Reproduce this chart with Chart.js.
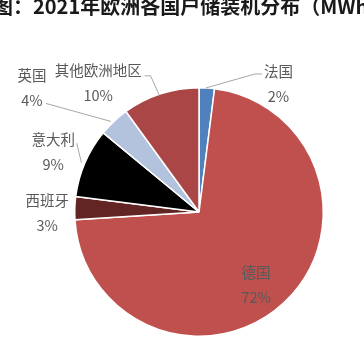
<!DOCTYPE html>
<html><head><meta charset="utf-8">
<script src="https://cdn.jsdelivr.net/npm/chart.js@4/dist/chart.umd.min.js"></script>
<style>
html,body{margin:0;padding:0;background:#fff;overflow:hidden;}
#wrap{position:relative;width:364px;height:343px;overflow:hidden;}
#title{position:absolute;left:-7px;top:-4px;white-space:nowrap;font:bold 20px "Noto Sans CJK SC",sans-serif;line-height:20px;color:#1a1a1a;}
canvas{position:absolute;left:0;top:0;}
</style></head>
<body>
<div id="wrap">
<canvas id="c" width="364" height="343"></canvas>
<div id="title">图：2021年欧洲各国户储装机分布（MWh）</div>
</div>
<script>
const categories = ["法国","德国","西班牙","意大利","英国","其他欧洲地区"];
const shares = [2,72,3,9,4,10];
const pctLabels = ["2%","72%","3%","9%","4%","10%"];

const colors = ["#4F81BD","#C0504D","#632523","#000000","#B3C2DD","#AB4646"];
// label name-centre offsets from the slice's outer-edge midpoint
const labelOffsets = [[71.7,-17],[-28,-30],[-27.6,-8],[-31.8,-23.4],[-82,-46.4],[-62.4,-23]];
// leader line points as offsets from the outer-edge midpoint
const leaders = [
  [[55,-14],[48,-14],[-1,0]],
  null,
  null,
  [[-8.3,-19.4],[-3.5,0]],
  [[-68,-18],[-3,0]],
  [[-16,-18],[-10,-18],[-1.5,1]]
];

const labelPlugin = {
  id:'pieLabels',
  afterDraw(chart){
    const ctx = chart.ctx;
    const meta = chart.getDatasetMeta(0);
    meta.data.forEach((arc,i)=>{
      const p = arc.getProps(['x','y','startAngle','endAngle','outerRadius'],true);
      const mid = (p.startAngle+p.endAngle)/2;
      const ax = p.x + Math.cos(mid)*p.outerRadius;
      const ay = p.y + Math.sin(mid)*p.outerRadius;
      if (leaders[i]) {
        ctx.save();
        ctx.strokeStyle = '#A6A6A6';
        ctx.lineWidth = 1;
        ctx.beginPath();
        leaders[i].forEach((o,k)=>{ const X=ax+o[0], Y=ay+o[1]; if(k===0) ctx.moveTo(X,Y); else ctx.lineTo(X,Y); });
        ctx.stroke();
        ctx.restore();
      }
      const lx = ax + labelOffsets[i][0];
      const ly = ay + labelOffsets[i][1];
      ctx.save();
      ctx.fillStyle = '#595959';
      ctx.font = '14.5px "Noto Sans CJK SC", sans-serif';
      ctx.textAlign = 'center';
      ctx.textBaseline = 'middle';
      ctx.fillText(categories[i], lx, ly);
      ctx.fillText(pctLabels[i], lx, ly+25);
      ctx.restore();
    });
  }
};

new Chart(document.getElementById('c'), {
  type:'pie',
  data:{ labels:categories, datasets:[{ data:shares, backgroundColor:colors, borderColor:'#ffffff', borderWidth:1.5 }] },
  options:{
    responsive:false, animation:false,
    layout:{ padding:{ left:74, right:40, top:87, bottom:6 } },
    plugins:{ legend:{display:false}, tooltip:{enabled:false}, title:{display:false} }
  },
  plugins:[labelPlugin]
});
</script>
</body></html>
